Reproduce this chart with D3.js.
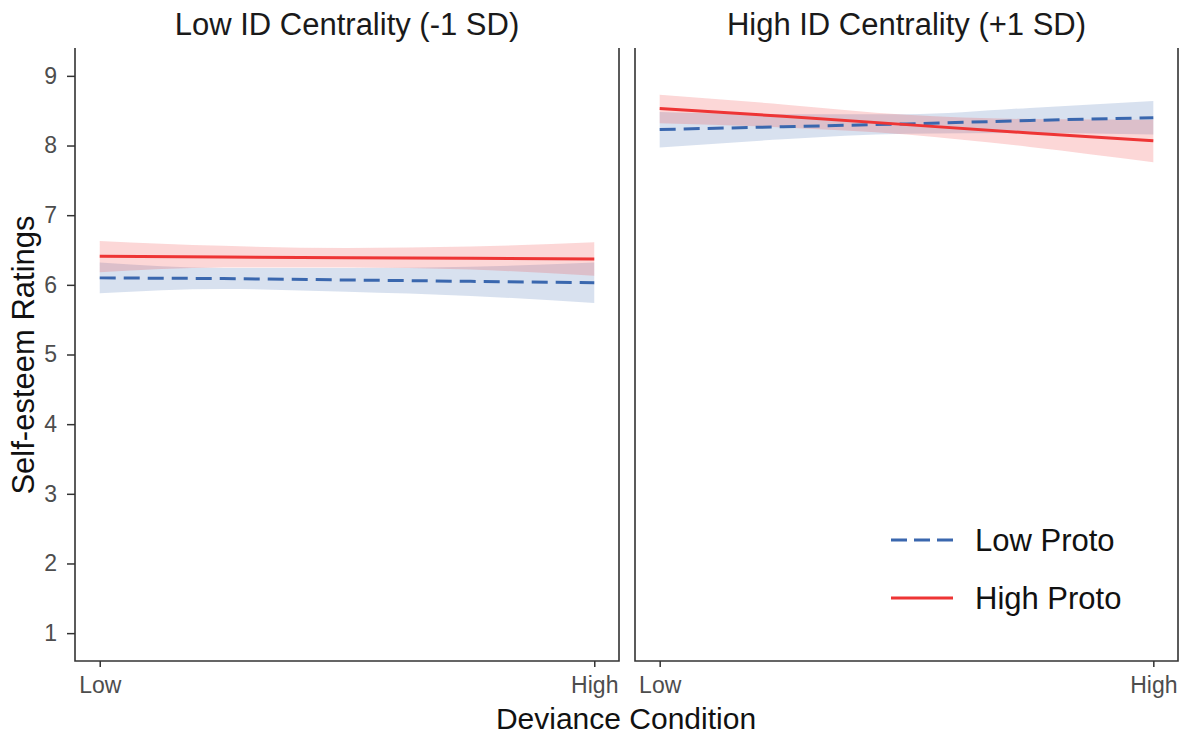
<!DOCTYPE html>
<html><head><meta charset="utf-8">
<script src="https://cdn.jsdelivr.net/npm/d3@7"></script>
<style>body{margin:0;background:#fff;} text{font-family:"Liberation Sans",Arial,sans-serif;}</style>
</head><body><svg id="c" width="1185" height="738"></svg>
<script>
// ---- data ----
const panels = ["Low ID Centrality (-1 SD)", "High ID Centrality (+1 SD)"];
const seriesNames = ["Low Proto", "High Proto"];
const xTickLabels = ["Low", "High"];
const yTicks = [1,2,3,4,5,6,7,8,9];
const xs = [0, 0.25, 0.5, 0.75, 1];
// Left panel (Low ID Centrality)
const leftLowProto   = [6.10, 6.09, 6.07, 6.05, 6.03];
const leftLowProtoLo = [5.88, 5.94, 5.90, 5.84, 5.74];
const leftLowProtoHi = [6.32, 6.24, 6.24, 6.26, 6.32];
const leftHighProto   = [6.41, 6.40, 6.39, 6.38, 6.37];
const leftHighProtoLo = [6.18, 6.25, 6.25, 6.22, 6.13];
const leftHighProtoHi = [6.63, 6.56, 6.53, 6.55, 6.61];
// Right panel (High ID Centrality)
const rightLowProto   = [8.23, 8.27, 8.31, 8.36, 8.40];
const rightLowProtoLo = [7.97, 8.09, 8.17, 8.18, 8.16];
const rightLowProtoHi = [8.48, 8.45, 8.45, 8.54, 8.64];
const rightHighProto   = [8.53, 8.42, 8.30, 8.18, 8.07];
const rightHighProtoLo = [8.32, 8.26, 8.16, 7.98, 7.76];
const rightHighProtoHi = [8.73, 8.59, 8.44, 8.38, 8.37];

const panelData = [
  {low:{m:leftLowProto,lo:leftLowProtoLo,hi:leftLowProtoHi}, high:{m:leftHighProto,lo:leftHighProtoLo,hi:leftHighProtoHi}},
  {low:{m:rightLowProto,lo:rightLowProtoLo,hi:rightLowProtoHi}, high:{m:rightHighProto,lo:rightHighProtoLo,hi:rightHighProtoHi}}
];
const colors = {low:"#3A67AE", high:"#EE3535"};
const dash = "16,8";

const svg = d3.select("#c");
const plotTop = 48, plotBottom = 661;
const panelX = [[75,619],[635,1178]];
const y = d3.scaleLinear().domain([0.6, 9.4]).range([plotBottom, plotTop]);

panels.forEach((title, i) => {
  const [x0, x1] = panelX[i];
  const x = d3.scaleLinear().domain([-0.05, 1.05]).range([x0, x1]);
  const g = svg.append("g");
  const pd = panelData[i];
  ["low","high"].forEach(k => {
    const s = pd[k];
    const area = d3.area().x((d,j)=>x(xs[j])).y0((d,j)=>y(s.lo[j])).y1((d,j)=>y(s.hi[j])).curve(d3.curveMonotoneX);
    g.append("path").attr("d", area(xs)).attr("fill", colors[k]).attr("fill-opacity", 0.2);
  });
  ["low","high"].forEach(k => {
    const s = pd[k];
    const line = d3.line().x((d,j)=>x(xs[j])).y((d,j)=>y(s.m[j]));
    g.append("path").attr("d", line(xs)).attr("fill","none").attr("stroke", colors[k])
      .attr("stroke-width", 3).attr("stroke-dasharray", k==="low" ? dash : null);
  });
  const xAxis = d3.axisBottom(x).tickValues([0,1]).tickFormat((d,j)=>xTickLabels[j]).tickSize(6).tickPadding(10);
  const ax = svg.append("g").attr("transform", `translate(0,${plotBottom})`).call(xAxis);
  ax.select(".domain").remove();
  ax.selectAll("line").attr("stroke","#333").attr("stroke-width",1.5);
  ax.selectAll("text").attr("fill","#4d4d4d").attr("font-size",23).attr("font-family","Liberation Sans, Arial");
  svg.append("path").attr("d", `M${x0},${plotTop}V${plotBottom}H${x1}V${plotTop}`).attr("fill","none").attr("stroke","#333").attr("stroke-width",1.6);
  svg.append("text").attr("x",(x0+x1)/2).attr("y",35).attr("text-anchor","middle")
    .attr("font-size",31).attr("fill","#1a1a1a").text(title);
  if (i === 0) {
    const yAxis = d3.axisLeft(y).tickValues(yTicks).tickSize(8).tickPadding(10);
    const ay = svg.append("g").attr("transform", `translate(${x0},0)`).call(yAxis);
    ay.select(".domain").remove();
    ay.selectAll("line").attr("stroke","#333").attr("stroke-width",1.5);
    ay.selectAll("text").attr("fill","#4d4d4d").attr("font-size",23).attr("font-family","Liberation Sans, Arial");
  }
});

svg.append("text").attr("x",626).attr("y",729).attr("text-anchor","middle").attr("font-size",30).attr("fill","#111").text("Deviance Condition");
svg.append("text").attr("transform","translate(34,355) rotate(-90)").attr("text-anchor","middle").attr("font-size",31).attr("fill","#111").text("Self-esteem Ratings");

const leg = svg.append("g");
seriesNames.forEach((n, i) => {
  const k = i===0 ? "low" : "high";
  const ly = 540 + i*58;
  leg.append("line").attr("x1",891).attr("x2",953).attr("y1",ly).attr("y2",ly)
    .attr("stroke",colors[k]).attr("stroke-width",3).attr("stroke-dasharray", k==="low" ? "16,7" : null);
  leg.append("text").attr("x",975).attr("y",ly+11).attr("font-size",31).attr("fill","#111").text(n);
});
</script></body></html>
